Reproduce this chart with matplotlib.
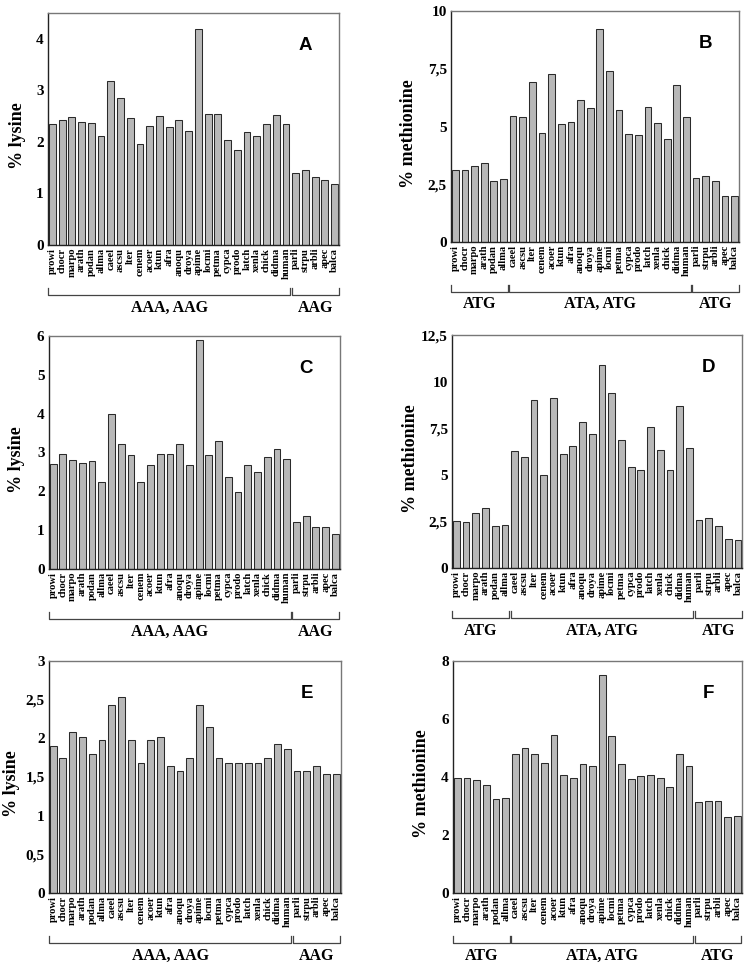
import matplotlib
matplotlib.use("Agg")
import matplotlib.pyplot as plt
import matplotlib.transforms as mtransforms
import numpy as np

species = ["prowi", "chocr", "marpo", "arath", "podan", "allma", "caeel", "ascsu",
           "lter", "cenem", "acoer", "ktun", "afra", "anoqu", "droya", "apime",
           "locmi", "petma", "cypca", "prodo", "latch", "xenla", "chick", "didma",
           "human", "parli", "strpu", "arbli", "apec", "balca"]

lys_a = [2.35, 2.43, 2.48, 2.39, 2.37, 2.12, 3.19, 2.86, 2.46, 1.95, 2.31, 2.51, 2.28,
         2.42, 2.22, 4.18, 2.54, 2.55, 2.03, 1.85, 2.19, 2.12, 2.34, 2.53, 2.35,
         1.39, 1.46, 1.32, 1.27, 1.19]
met_b = [3.13, 3.10, 3.31, 3.40, 2.62, 2.71, 5.46, 5.40, 6.92, 4.71, 7.28, 5.09, 5.20,
         6.15, 5.81, 9.22, 7.42, 5.71, 4.67, 4.64, 5.86, 5.17, 4.47, 6.79, 5.42,
         2.78, 2.87, 2.62, 2.00, 2.00]
lys_c = [2.71, 2.97, 2.81, 2.73, 2.78, 2.24, 3.99, 3.22, 2.94, 2.23, 2.67, 2.97, 2.97,
         3.22, 2.68, 5.89, 2.93, 3.30, 2.36, 1.99, 2.67, 2.51, 2.88, 3.09, 2.84,
         1.21, 1.36, 1.07, 1.07, 0.89]
met_d = [2.54, 2.49, 2.95, 3.20, 2.25, 2.31, 6.26, 5.96, 9.02, 5.01, 9.12, 6.10, 6.57,
         7.84, 7.21, 10.91, 9.39, 6.89, 5.42, 5.26, 7.57, 6.35, 5.28, 8.69, 6.44,
         2.56, 2.67, 2.24, 1.57, 1.52]
lys_e = [1.90, 1.74, 2.08, 2.02, 1.80, 1.98, 2.43, 2.54, 1.98, 1.68, 1.98, 2.02, 1.64,
         1.58, 1.75, 2.43, 2.15, 1.75, 1.68, 1.68, 1.68, 1.68, 1.75, 1.92, 1.86,
         1.58, 1.58, 1.64, 1.54, 1.54]
met_f = [3.95, 3.95, 3.90, 3.72, 3.23, 3.29, 4.78, 4.99, 4.78, 4.49, 5.44, 4.07, 3.95,
         4.44, 4.38, 7.53, 5.40, 4.44, 3.92, 4.03, 4.08, 3.97, 3.64, 4.78, 4.38,
         3.13, 3.17, 3.17, 2.62, 2.67]

lys_groups = [(0, 24, "AAA, AAG"), (25, 29, "AAG")]
met_groups = [(0, 5, "ATG"), (6, 24, "ATA, ATG"), (25, 29, "ATG")]

lys_ticks_a = [0, 1, 2, 3, 4]
met_ticks_b = [0, 2.5, 5, 7.5, 10]
lys_ticks_c = [0, 1, 2, 3, 4, 5, 6]
met_ticks_d = [0, 2.5, 5, 7.5, 10, 12.5]
lys_ticks_e = [0, 0.5, 1, 1.5, 2, 2.5, 3]
met_ticks_f = [0, 2, 4, 6, 8]

SERIF = "Liberation Serif"
FIG_W = 750


def fmt(v):
    s = f"{v:g}"
    return s.replace(".", ",")


def panel(fig, rect, values, ticks, ylim, ylabel, letter, groups, label_dx):
    ax = fig.add_axes(rect)
    x = np.arange(len(species))
    ax.bar(x, values, width=0.7, color="#b8b8b8", edgecolor="#2a2a2a", linewidth=0.75)
    ax.set_xlim(-0.45, len(species) - 0.55)
    ax.set_ylim(*ylim)
    ax.set_xticks(x)
    ax.set_xticklabels(species, rotation=90, fontfamily=SERIF, fontweight="bold",
                       fontsize=7.6)
    ax.set_yticks(ticks)
    ax.set_yticklabels([fmt(t) for t in ticks], fontfamily=SERIF, fontweight="bold",
                       fontsize=11)
    ax.tick_params(axis="both", length=0, pad=3)
    ax.tick_params(axis="x", pad=2)
    ax.set_ylabel(ylabel, fontfamily=SERIF, fontweight="bold", fontsize=13, va="center")
    # label centre sits label_dx pixels left of the axes
    ax.yaxis.set_label_coords(-label_dx / (rect[2] * FIG_W), 0.47)
    for sp in ax.spines.values():
        sp.set_color("#777777")
        sp.set_linewidth(1.0)
    ax.spines["left"].set_color("#222222")
    ax.spines["bottom"].set_color("#222222")
    ax.text(0.885, 0.86, letter, transform=ax.transAxes, fontfamily="Liberation Sans",
            fontweight="bold", fontsize=13.5, ha="center", va="center")

    trans = mtransforms.blended_transform_factory(ax.transData, ax.transAxes)
    yb = -0.215
    for i0, i1, lab in groups:
        x0, x1 = i0 - 0.42, i1 + 0.42
        ax.plot([x0, x0, x1, x1], [yb + 0.03, yb, yb, yb + 0.03], transform=trans,
                color="#444444", lw=0.9, clip_on=False)
        ax.text((x0 + x1) / 2, yb - 0.055, lab, transform=trans, ha="center", va="center",
                fontfamily=SERIF, fontweight="bold", fontsize=11.5)
    return ax


fig = plt.figure(figsize=(7.5, 9.68), dpi=100)

panel(fig, [0.064, 0.7469, 0.388, 0.2397], lys_a, lys_ticks_a, (0, 4.5),
      "% lysine", "A", lys_groups, 31)
panel(fig, [0.6013, 0.7500, 0.384, 0.2386], met_b, met_ticks_b, (0, 10),
      "% methionine", "B", met_groups, 42)
panel(fig, [0.065, 0.4122, 0.388, 0.2407], lys_c, lys_ticks_c, (0, 6),
      "% lysine", "C", lys_groups, 32)
panel(fig, [0.6027, 0.4132, 0.387, 0.2407], met_d, met_ticks_d, (0, 12.5),
      "% methionine", "D", met_groups, 42)
panel(fig, [0.065, 0.0775, 0.389, 0.2397], lys_e, lys_ticks_e, (0, 3),
      "% lysine", "E", lys_groups, 37)
panel(fig, [0.604, 0.0775, 0.385, 0.2397], met_f, met_ticks_f, (0, 8),
      "% methionine", "F", met_groups, 31)

fig.savefig("out.png", dpi=100, facecolor="white")
